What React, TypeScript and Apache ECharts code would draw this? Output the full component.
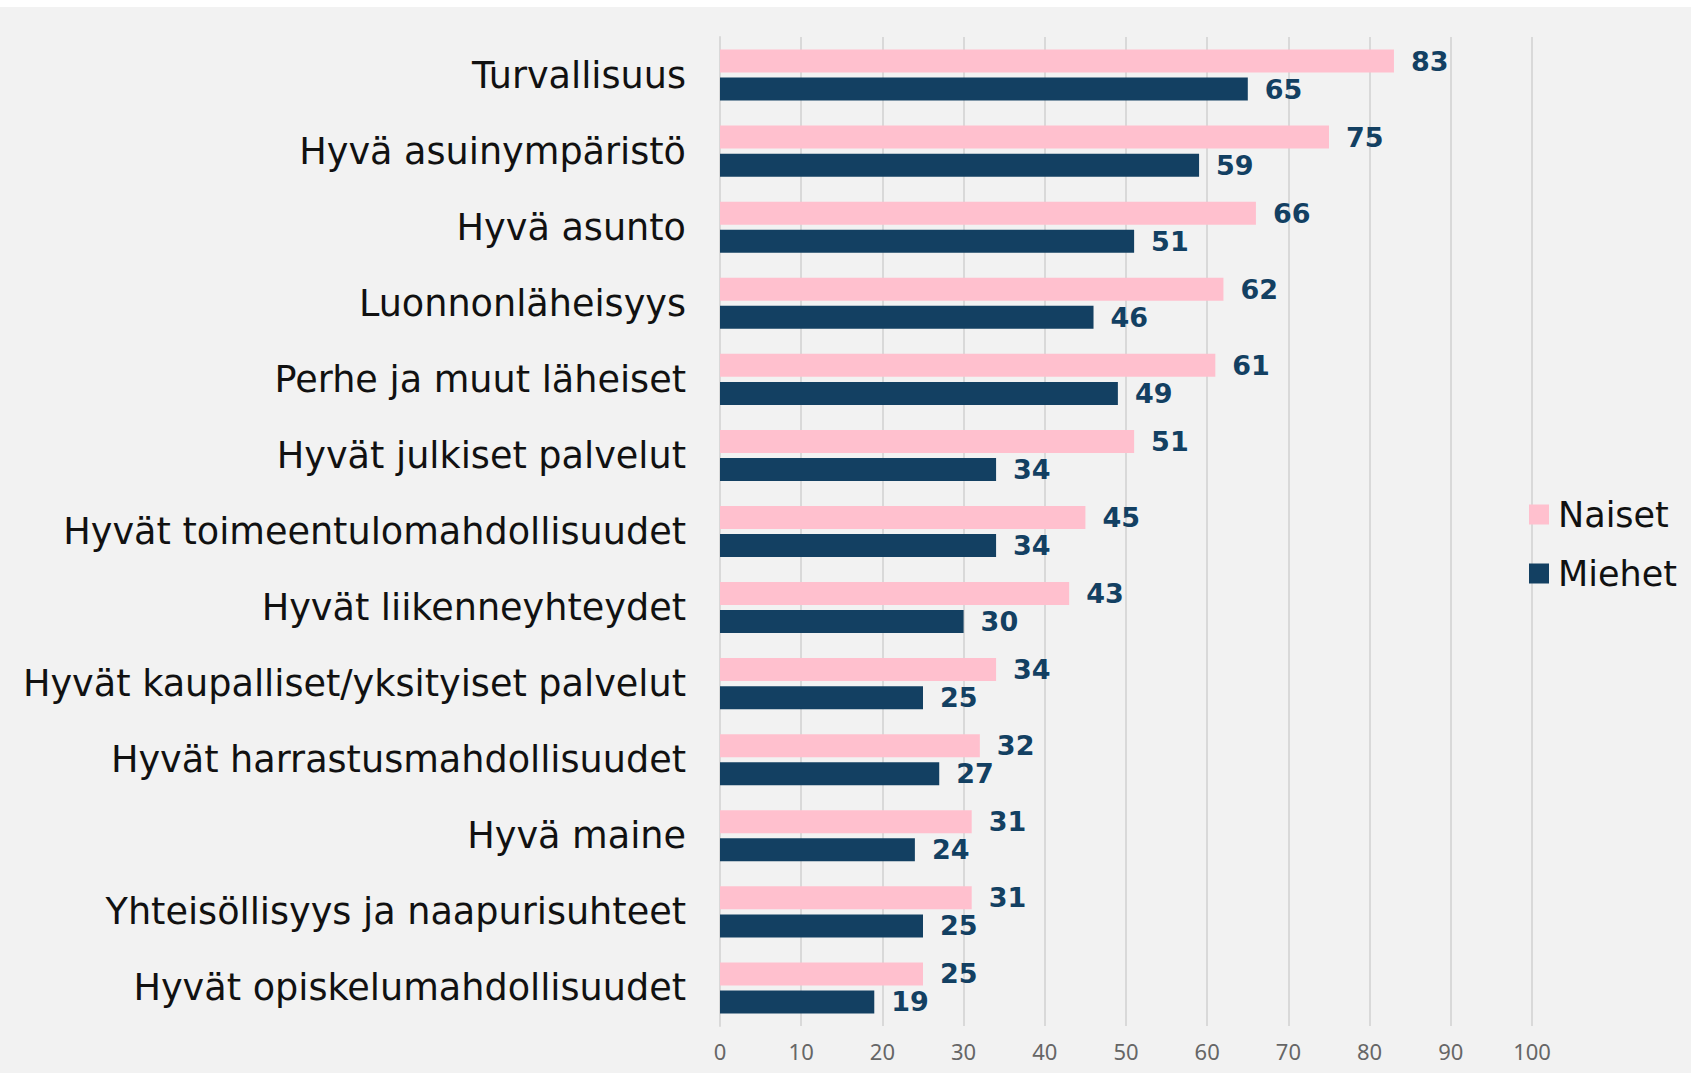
import React, { useEffect, useRef } from "react";
import * as echarts from "echarts";

const categories = [
  "Turvallisuus",
  "Hyvä asuinympäristö",
  "Hyvä asunto",
  "Luonnonläheisyys",
  "Perhe ja muut läheiset",
  "Hyvät julkiset palvelut",
  "Hyvät toimeentulomahdollisuudet",
  "Hyvät liikenneyhteydet",
  "Hyvät kaupalliset/yksityiset palvelut",
  "Hyvät harrastusmahdollisuudet",
  "Hyvä maine",
  "Yhteisöllisyys ja naapurisuhteet",
  "Hyvät opiskelumahdollisuudet",
];
const naiset = [83, 75, 66, 62, 61, 51, 45, 43, 34, 32, 31, 31, 25];
const miehet = [65, 59, 51, 46, 49, 34, 34, 30, 25, 27, 24, 25, 19];
const xTicks = [0, 10, 20, 30, 40, 50, 60, 70, 80, 90, 100];

const PINK = "#FFC0CE";
const NAVY = "#134062";
const FONT = "'Noto Sans', sans-serif";
const WIDE = "'DejaVu Sans', sans-serif";

export default function App() {
  const ref = useRef<HTMLDivElement>(null);
  useEffect(() => {
    if (!ref.current) return;
    const chart = echarts.init(ref.current, null, { renderer: "svg" });
    const label = {
      show: true,
      position: "right",
      distance: 17,
      color: NAVY,
      fontFamily: WIDE,
      fontWeight: "bold",
      fontSize: 27,
    };
    chart.setOption({
      animation: false,
      backgroundColor: "#f2f2f2",
      graphic: [
        { type: "rect", shape: { x: 0, y: 0, width: 1691, height: 7 }, style: { fill: "#ffffff" }, z: 100 },
      ],
      grid: { left: 720, right: 159, top: 37, bottom: 47, containLabel: false },
      legend: {
        orient: "vertical",
        left: 1524,
        top: 492,
        icon: "rect",
        itemWidth: 20,
        itemHeight: 20,
        itemGap: 24,
        textStyle: { fontFamily: WIDE, fontSize: 35, color: "#111", lineHeight: 35, padding: [0, 0, 0, 4] },
        data: ["Naiset", "Miehet"],
      },
      xAxis: {
        type: "value",
        min: xTicks[0],
        max: xTicks[xTicks.length - 1],
        interval: 10,
        axisLine: { show: false },
        axisTick: { show: false },
        splitLine: { show: true, lineStyle: { color: "#d9d9d9", width: 2 } },
        axisLabel: { fontFamily: FONT, fontSize: 22, color: "#666", margin: 14 },
      },
      yAxis: {
        type: "category",
        data: categories,
        inverse: true,
        axisLine: { show: true, lineStyle: { color: "#d9d9d9", width: 2 } },
        axisTick: { show: false },
        axisLabel: { fontFamily: WIDE, fontSize: 36.6, color: "#111", margin: 34, padding: [0, 0, 6, 0] },
      },
      series: [
        {
          name: "Naiset",
          type: "bar",
          data: naiset,
          barWidth: 23,
          barGap: "22%",
          itemStyle: { color: PINK },
          label,
        },
        {
          name: "Miehet",
          type: "bar",
          data: miehet,
          barWidth: 23,
          barGap: "22%",
          itemStyle: { color: NAVY },
          label,
        },
      ],
    });
    return () => chart.dispose();
  }, []);
  return (
    <div
      ref={ref}
      style={{ position: "fixed", left: 0, top: 0, width: 1691, height: 1073 }}
    />
  );
}
